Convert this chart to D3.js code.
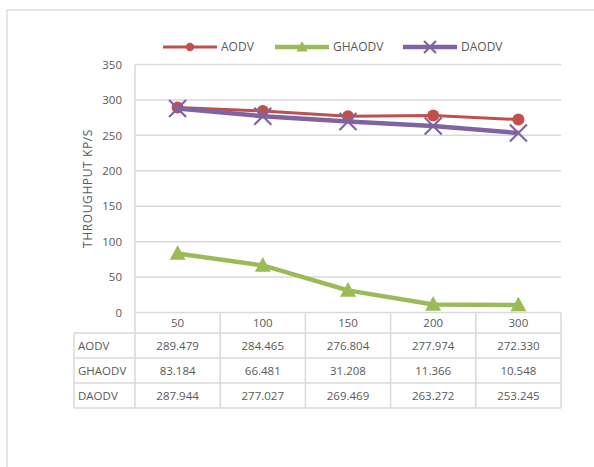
<!DOCTYPE html>
<html>
<head>
<meta charset="utf-8">
<script src="https://cdn.jsdelivr.net/npm/d3@7"></script>
<style>
  html, body { margin: 0; padding: 0; background: #fff; }
  svg { display: block; }
  text { font-family: "Open Sans", "Noto Sans", sans-serif; fill: #595959; }
</style>
</head>
<body>
<svg id="chart" width="594" height="467"></svg>
<script>
// Throughput by number of nodes for three routing protocols
const categories = ["50", "100", "150", "200", "300"];
const seriesNames = ["AODV", "GHAODV", "DAODV"];
const aodv   = [289.479, 284.465, 276.804, 277.974, 272.330];
const ghaodv = [83.184, 66.481, 31.208, 11.366, 10.548];
const daodv  = [287.944, 277.027, 269.469, 263.272, 253.245];
const yTicks = [0, 50, 100, 150, 200, 250, 300, 350];
const yTitle = "THROUGHPUT KP/S";

const colors = { AODV: "#C0504D", GHAODV: "#9BBB59", DAODV: "#8064A2" };
const widths = { AODV: 3, GHAODV: 4.5, DAODV: 4.5 };
const series = [
  { name: "AODV", values: aodv, marker: "circle" },
  { name: "GHAODV", values: ghaodv, marker: "triangle" },
  { name: "DAODV", values: daodv, marker: "x" }
];

const svg = d3.select("#chart");
const grid = "#d9d9d9";

// outer chart frame
svg.append("rect").attr("x", 7).attr("y", 10).attr("width", 640).attr("height", 520)
  .attr("fill", "none").attr("stroke", grid).attr("stroke-width", 1.3);

const plot = { left: 135, right: 561, top: 64.5, bottom: 312.5 };
const x = d3.scaleBand().domain(categories).range([plot.left, plot.right]);
const y = d3.scaleLinear().domain([0, 350]).range([plot.bottom, plot.top]);

// horizontal gridlines
svg.append("g").selectAll("line").data(yTicks).join("line")
  .attr("x1", plot.left).attr("x2", plot.right)
  .attr("y1", d => y(d)).attr("y2", d => y(d))
  .attr("stroke", grid).attr("stroke-width", 1.5);

// value axis line
svg.append("line").attr("x1", plot.left).attr("x2", plot.left)
  .attr("y1", plot.top).attr("y2", plot.bottom)
  .attr("stroke", grid).attr("stroke-width", 1.5);

// value axis labels
const yAxis = d3.axisLeft(y).tickValues(yTicks).tickSize(0).tickPadding(13);
const yg = svg.append("g").attr("transform", `translate(${plot.left},0)`).call(yAxis);
yg.select(".domain").remove();
yg.selectAll("text").style("font-family", '"Open Sans", sans-serif')
  .style("font-size", "11.5px").attr("fill", "#595959");

svg.append("text")
  .attr("transform", `translate(92,${(plot.top + plot.bottom) / 2}) rotate(-90)`)
  .attr("text-anchor", "middle").style("font-size", "12px")
  .style("letter-spacing", "0.6px")
  .text(yTitle);

// data table beneath the plot
const tableLeft = 74;
const rowTops = [plot.bottom, 333, 358, 383, 408];
const tg = svg.append("g");
// horizontal table rules
rowTops.slice(1).forEach(ry => {
  tg.append("line").attr("x1", tableLeft).attr("x2", plot.right)
    .attr("y1", ry).attr("y2", ry).attr("stroke", grid).attr("stroke-width", 1.5);
});
// vertical table rules (category boundaries)
const bounds = categories.map(c => x(c)).concat([plot.right]);
bounds.forEach(bx => {
  tg.append("line").attr("x1", bx).attr("x2", bx)
    .attr("y1", plot.bottom).attr("y2", rowTops[4])
    .attr("stroke", grid).attr("stroke-width", 1.5);
});
tg.append("line").attr("x1", tableLeft).attr("x2", tableLeft)
  .attr("y1", rowTops[1]).attr("y2", rowTops[4])
  .attr("stroke", grid).attr("stroke-width", 1.5);

// category header row
tg.selectAll("text.cat").data(categories).join("text").attr("class", "cat")
  .attr("x", d => x(d) + x.bandwidth() / 2)
  .attr("y", (rowTops[0] + rowTops[1]) / 2 + 4.5)
  .attr("text-anchor", "middle").style("font-size", "11.5px")
  .text(d => d);

// series rows
series.forEach((s, i) => {
  const cy = (rowTops[i + 1] + rowTops[i + 2]) / 2 + 4.5;
  tg.append("text").attr("x", tableLeft + 4).attr("y", cy)
    .style("font-size", "11.5px").text(s.name);
  tg.selectAll(null).data(s.values).join("text")
    .attr("x", (d, j) => x(categories[j]) + x.bandwidth() / 2)
    .attr("y", cy).attr("text-anchor", "middle").style("font-size", "11.5px")
    .text(d => d.toFixed(3));
});

// marker drawing helper
function drawMarker(g, type, cx, cy, color, scale) {
  const k = scale || 1;
  if (type === "circle") {
    g.append("circle").attr("cx", cx).attr("cy", cy).attr("r", 6 * k).attr("fill", color);
  } else if (type === "triangle") {
    const h = 14 * k, w = 16 * k;
    g.append("path")
      .attr("d", `M${cx},${cy - h * 0.6} L${cx + w / 2},${cy + h * 0.45} L${cx - w / 2},${cy + h * 0.45} Z`)
      .attr("fill", color);
  } else {
    const s = 8.5 * k;
    g.append("path")
      .attr("d", `M${cx - s},${cy - s} L${cx + s},${cy + s} M${cx - s},${cy + s} L${cx + s},${cy - s}`)
      .attr("stroke", color).attr("stroke-width", 2.2);
  }
}

const line = d3.line().x((d, i) => x(categories[i]) + x.bandwidth() / 2).y(d => y(d));
const lg = svg.append("g");
series.forEach(s => {
  lg.append("path").datum(s.values).attr("d", line)
    .attr("fill", "none").attr("stroke", colors[s.name])
    .attr("stroke-width", widths[s.name]).attr("stroke-linejoin", "round");
  s.values.forEach((v, i) => {
    drawMarker(lg, s.marker, x(categories[i]) + x.bandwidth() / 2, y(v), colors[s.name]);
  });
});

// legend
const legendItems = [
  { name: "AODV", x0: 163 },
  { name: "GHAODV", x0: 275 },
  { name: "DAODV", x0: 403 }
];
const legY = 47;
const leg = svg.append("g");
legendItems.forEach(it => {
  const s = series.find(d => d.name === it.name);
  leg.append("line").attr("x1", it.x0).attr("x2", it.x0 + 54)
    .attr("y1", legY).attr("y2", legY)
    .attr("stroke", colors[it.name]).attr("stroke-width", widths[it.name]);
  drawMarker(leg, s.marker, it.x0 + 27, legY, colors[it.name], 0.7);
  leg.append("text").attr("x", it.x0 + 58).attr("y", legY + 4)
    .style("font-size", "12px").text(it.name);
});
</script>
</body>
</html>
